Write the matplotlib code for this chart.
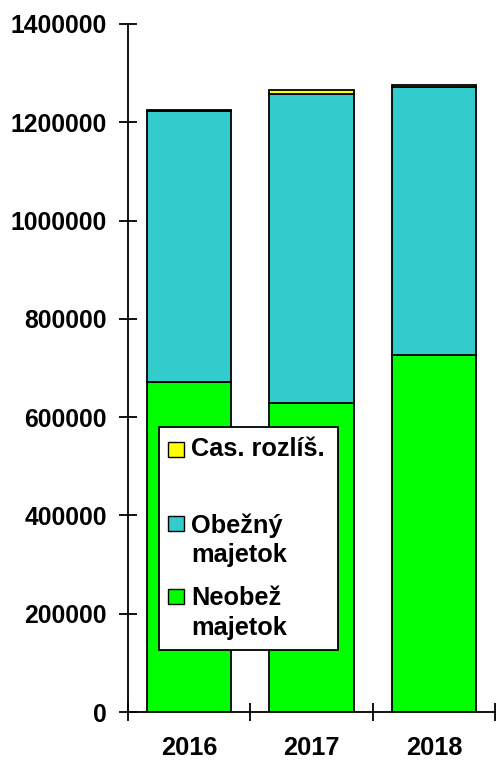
import numpy as np
from matplotlib import pyplot as plt
from matplotlib import ticker as mticker
from matplotlib.patches import Rectangle

plt.rcParams["font.family"] = ["Liberation Sans", "DejaVu Sans"]
plt.rcParams["font.weight"] = "bold"

# Data
years = ["2016", "2017", "2018"]
neobez = [672000, 628500, 726000]    # Neobež majetok
obezny = [550000, 629000, 545000]    # Obežný majetok
cas = [3500, 7500, 5000]             # Cas. rozlíš.

c_green = "#00FF00"
c_cyan = "#33CCCC"
c_yellow = "#FFFF00"

fig = plt.figure(figsize=(4.97, 7.6), dpi=100)
W, H = 497, 760
ax = fig.add_axes([128 / W, 1 - 712 / H, (495 - 128) / W, (712 - 24) / H])

x = np.arange(len(years))
bw = 0.69
ax.bar(x, neobez, bw, color=c_green, edgecolor="k", linewidth=1.3, zorder=2)
ax.bar(x, obezny, bw, bottom=neobez, color=c_cyan, edgecolor="k", linewidth=1.3, zorder=2)
bottom2 = np.array(neobez) + np.array(obezny)
ax.bar(x, cas, bw, bottom=bottom2, color=c_yellow, edgecolor="k", linewidth=1.3, zorder=2)

## Axes
ax.set_xlim(-0.5, 2.5)
ax.set_ylim(0, 1400000)
for s in ("top", "right"):
    ax.spines[s].set_visible(False)
for s in ("left", "bottom"):
    ax.spines[s].set_linewidth(1.3)

ax.yaxis.set_major_locator(mticker.MultipleLocator(200000))
ax.yaxis.set_major_formatter(mticker.FuncFormatter(lambda v, p: "{:d}".format(int(round(v)))))
ax.tick_params(axis="y", direction="inout", length=13, width=1.3, pad=8.6, labelsize=17.8)
ax.set_xticks(x)
ax.set_xticklabels(years)
ax.set_xticks([-0.5, 0.5, 1.5, 2.5], minor=True)
ax.tick_params(axis="x", which="major", length=0, pad=17, labelsize=18.3)
ax.tick_params(axis="x", which="minor", direction="inout", length=13, width=1.3)
for lab in ax.get_xticklabels() + ax.get_yticklabels():
    lab.set_fontweight("bold")

## Legend (drawn by hand so the swatch sits next to the first line)
def px(xp, yp):
    return xp / W, 1 - yp / H

ft = fig.transFigure
fig.patches.append(Rectangle(px(159, 650), (338 - 159) / W, (650 - 427) / H, transform=ft,
                             facecolor="white", edgecolor="k", linewidth=1.3, zorder=5))
entries = [
    (c_yellow, 442, ["Cas. rozlíš."], [456]),
    (c_cyan, 516, ["Obežný", "majetok"], [533, 562]),
    (c_green, 589, ["Neobež", "majetok"], [605, 635]),
]
for col, ytop, lines, bases in entries:
    fig.patches.append(Rectangle(px(168, ytop + 15), 16 / W, 15 / H, transform=ft,
                                 facecolor=col, edgecolor="k", linewidth=1.0, zorder=6))
    for txt, yb in zip(lines, bases):
        fig.text(*px(191, yb), txt, fontsize=18.3, fontweight="bold", va="baseline", ha="left", zorder=7)

plt.savefig("out.png", dpi=100)
